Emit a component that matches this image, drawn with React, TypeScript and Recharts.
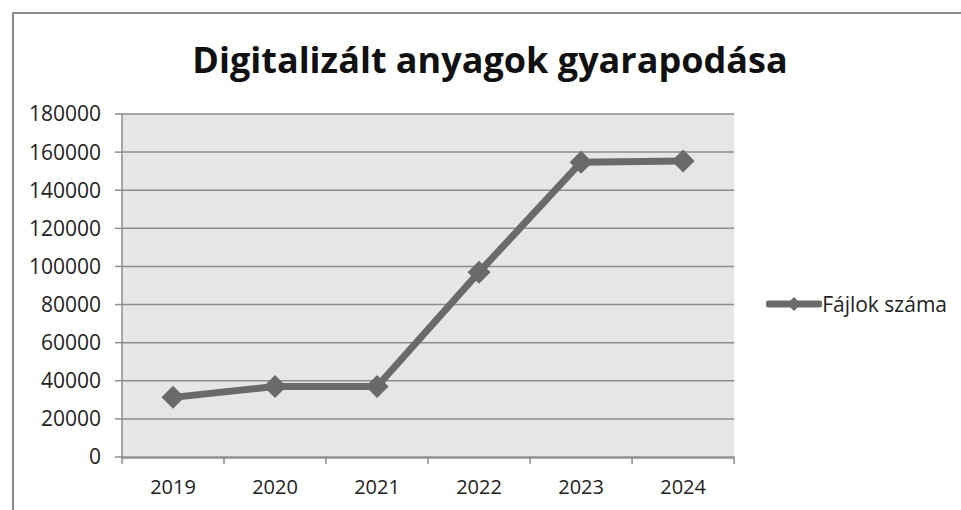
import { LineChart, Line, XAxis, YAxis, CartesianGrid, Legend } from "recharts";

const years = ["2019", "2020", "2021", "2022", "2023", "2024"];
const fileCounts = [31300, 37000, 37000, 97000, 154700, 155400];
const yTicks = [0, 20000, 40000, 60000, 80000, 100000, 120000, 140000, 160000, 180000];
const seriesName = "Fájlok száma";
const title = "Digitalizált anyagok gyarapodása";

const data = years.map((year, i) => ({ year, files: fileCounts[i] }));

// the helper axis runs over the index range 0..n-1, so band edges sit at k*(n-1)/n
const lastIndex = years.length - 1;
const edgeTicks = Array.from({ length: years.length + 1 }, (_, k) => (k * lastIndex) / years.length);

const LINE_COLOR = "#6a6a6a";
const GRID_COLOR = "#8c8c8c";
const FONT = "'Open Sans', sans-serif";

// diamond marker like the excel one
const Diamond = (props: any) => {
  const { cx, cy, index } = props;
  if (cx == null || cy == null) return null;
  const s = 11.5;
  return (
    <polygon
      key={`d-${index}`}
      points={`${cx},${cy - s} ${cx + s},${cy} ${cx},${cy + s} ${cx - s},${cy}`}
      fill={LINE_COLOR}
    />
  );
};

const LegendContent = () => (
  <div style={{ display: "flex", alignItems: "center", fontFamily: FONT, fontSize: 21, color: "#222" }}>
    <svg width={56} height={20}>
      <line x1={3} y1={10} x2={53} y2={10} stroke={LINE_COLOR} strokeWidth={7} strokeLinecap="round" />
      <polygon points="28,3 35,10 28,17 21,10" fill={LINE_COLOR} />
    </svg>
    <span>{seriesName}</span>
  </div>
);

export default function App() {
  return (
    <div style={{ position: "absolute", left: 0, top: 0, width: 961, height: 510, background: "#fff" }}>
      <div
        style={{
          position: "absolute",
          left: 12,
          top: 12,
          width: 949,
          height: 498,
          borderLeft: "2px solid #8a8a8a",
          borderTop: "2px solid #8a8a8a",
          boxSizing: "border-box",
        }}
      />
      <div
        style={{
          position: "absolute",
          left: 0,
          width: 980,
          top: 35,
          textAlign: "center",
          fontFamily: FONT,
          fontWeight: 700,
          fontSize: 36,
          color: "#111",
        }}
      >
        {title}
      </div>
      <LineChart
        width={961}
        height={510}
        data={data}
        margin={{ top: 114, right: 46, bottom: 13, left: 12 }}
        style={{ position: "absolute", left: 0, top: 0 }}
      >
        <CartesianGrid
          xAxisId="main"
          vertical={false}
          stroke={GRID_COLOR}
          strokeWidth={1.5}
          fill="#e6e6e6"
          fillOpacity={1}
        />
        {/* boundary tick marks between the year bands */}
        <XAxis
          xAxisId="edges"
          type="number"
          domain={[0, lastIndex]}
          ticks={edgeTicks}
          interval={0}
          tickFormatter={() => ""}
          axisLine={false}
          tickLine={{ stroke: GRID_COLOR, strokeWidth: 1.5 }}
          tickSize={7}
          height={1}
          allowDataOverflow
        />
        <XAxis
          xAxisId="main"
          dataKey="year"
          scale="band"
          axisLine={{ stroke: GRID_COLOR, strokeWidth: 1.5 }}
          tickLine={false}
          tickSize={0}
          tickMargin={22}
          height={39}
          tick={{ fill: "#222", fontSize: 20, fontFamily: FONT }}
        />
        <YAxis
          domain={[0, 180000]}
          ticks={yTicks}
          interval={0}
          width={110}
          axisLine={{ stroke: GRID_COLOR, strokeWidth: 1.5 }}
          tickLine={{ stroke: GRID_COLOR, strokeWidth: 1.5 }}
          tickSize={7}
          tickMargin={14}
          tick={{ fill: "#222", fontSize: 21, fontFamily: FONT }}
        />
        <Legend
          layout="vertical"
          align="right"
          verticalAlign="middle"
          content={LegendContent}
          wrapperStyle={{ right: 14, top: 290 }}
        />
        <Line
          xAxisId="main"
          type="linear"
          dataKey="files"
          name={seriesName}
          stroke={LINE_COLOR}
          strokeWidth={7}
          dot={Diamond}
          activeDot={false}
          isAnimationActive={false}
        />
      </LineChart>
    </div>
  );
}
